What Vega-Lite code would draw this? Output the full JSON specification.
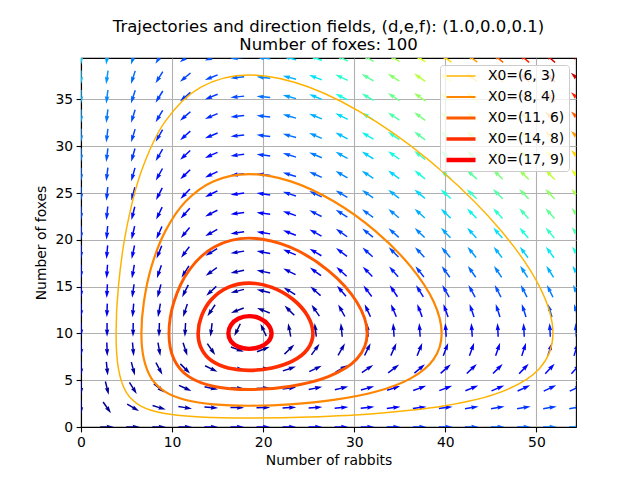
{
  "$schema": "https://vega.github.io/schema/vega-lite/v6.json",
  "width": 495,
  "height": 369,
  "autosize": {"type": "none"},
  "padding": {"left": 81, "top": 58, "right": 64, "bottom": 53},
  "title": {
    "text": ["Trajectories and direction fields, (d,e,f): (1.0,0.0,0.1)", "Number of foxes: 100"],
    "font": "DejaVu Sans",
    "fontSize": 16.5,
    "fontWeight": "normal",
    "color": "black",
    "anchor": "middle",
    "lineHeight": 17.5,
    "offset": 5
  },
  "datasets": {
    "field": [
      {"x":0,"y":2.075,"dir":180,"m":3.84},{"x":0,"y":4.151,"dir":180,"m":7.69},{"x":0,"y":6.226,"dir":180,"m":11.53},{"x":0,"y":8.301,"dir":180,"m":15.37},{"x":0,"y":10.377,"dir":180,"m":19.22},{"x":0,"y":12.452,"dir":180,"m":23.06},{"x":0,"y":14.527,"dir":180,"m":26.9},{"x":0,"y":16.602,"dir":180,"m":30.75},{"x":0,"y":18.678,"dir":180,"m":34.59},{"x":0,"y":20.753,"dir":180,"m":38.44},{"x":0,"y":22.828,"dir":180,"m":42.28},{"x":0,"y":24.904,"dir":180,"m":46.12},{"x":0,"y":26.979,"dir":180,"m":49.97},{"x":0,"y":29.054,"dir":180,"m":53.81},{"x":0,"y":31.13,"dir":180,"m":57.65},{"x":0,"y":33.205,"dir":180,"m":61.5},{"x":0,"y":35.28,"dir":180,"m":65.34},{"x":0,"y":37.355,"dir":180,"m":69.18},{"x":0,"y":39.431,"dir":180,"m":73.03},
      {"x":2.861,"y":0,"dir":90,"m":2.86},{"x":2.861,"y":2.075,"dir":145,"m":3.96},{"x":2.861,"y":4.151,"dir":166,"m":6.71},{"x":2.861,"y":6.226,"dir":174,"m":9.8},{"x":2.861,"y":8.301,"dir":178,"m":13.0},{"x":2.861,"y":10.377,"dir":180,"m":16.24},{"x":2.861,"y":12.452,"dir":182,"m":19.5},{"x":2.861,"y":14.527,"dir":183,"m":22.77},{"x":2.861,"y":16.602,"dir":184,"m":26.05},{"x":2.861,"y":18.678,"dir":185,"m":29.33},{"x":2.861,"y":20.753,"dir":185,"m":32.62},{"x":2.861,"y":22.828,"dir":186,"m":35.91},{"x":2.861,"y":24.904,"dir":186,"m":39.2},{"x":2.861,"y":26.979,"dir":187,"m":42.5},{"x":2.861,"y":29.054,"dir":187,"m":45.79},{"x":2.861,"y":31.13,"dir":187,"m":49.09},{"x":2.861,"y":33.205,"dir":187,"m":52.38},{"x":2.861,"y":35.28,"dir":187,"m":55.68},{"x":2.861,"y":37.355,"dir":188,"m":58.98},{"x":2.861,"y":39.431,"dir":188,"m":62.27},
      {"x":5.721,"y":0,"dir":90,"m":5.72},{"x":5.721,"y":2.075,"dir":120,"m":5.25},{"x":5.721,"y":4.151,"dir":148,"m":6.27},{"x":5.721,"y":6.226,"dir":165,"m":8.24},{"x":5.721,"y":8.301,"dir":175,"m":10.65},{"x":5.721,"y":10.377,"dir":181,"m":13.26},{"x":5.721,"y":12.452,"dir":185,"m":15.97},{"x":5.721,"y":14.527,"dir":188,"m":18.74},{"x":5.721,"y":16.602,"dir":190,"m":21.54},{"x":5.721,"y":18.678,"dir":192,"m":24.37},{"x":5.721,"y":20.753,"dir":193,"m":27.22},{"x":5.721,"y":22.828,"dir":194,"m":30.08},{"x":5.721,"y":24.904,"dir":195,"m":32.94},{"x":5.721,"y":26.979,"dir":196,"m":35.81},{"x":5.721,"y":29.054,"dir":196,"m":38.69},{"x":5.721,"y":31.13,"dir":197,"m":41.57},{"x":5.721,"y":33.205,"dir":197,"m":44.45},{"x":5.721,"y":35.28,"dir":198,"m":47.34},{"x":5.721,"y":37.355,"dir":198,"m":50.23},{"x":5.721,"y":39.431,"dir":198,"m":53.12},
      {"x":8.582,"y":0,"dir":90,"m":8.58},{"x":8.582,"y":2.075,"dir":107,"m":7.1},{"x":8.582,"y":4.151,"dir":129,"m":6.49},{"x":8.582,"y":6.226,"dir":152,"m":6.97},{"x":8.582,"y":8.301,"dir":170,"m":8.35},{"x":8.582,"y":10.377,"dir":182,"m":10.28},{"x":8.582,"y":12.452,"dir":190,"m":12.51},{"x":8.582,"y":14.527,"dir":195,"m":14.9},{"x":8.582,"y":16.602,"dir":199,"m":17.39},{"x":8.582,"y":18.678,"dir":202,"m":19.94},{"x":8.582,"y":20.753,"dir":204,"m":22.53},{"x":8.582,"y":22.828,"dir":206,"m":25.15},{"x":8.582,"y":24.904,"dir":207,"m":27.78},{"x":8.582,"y":26.979,"dir":209,"m":30.43},{"x":8.582,"y":29.054,"dir":210,"m":33.1},{"x":8.582,"y":31.13,"dir":210,"m":35.77},{"x":8.582,"y":33.205,"dir":211,"m":38.44},{"x":8.582,"y":35.28,"dir":212,"m":41.13},{"x":8.582,"y":37.355,"dir":212,"m":43.82},{"x":8.582,"y":39.431,"dir":213,"m":46.51},
      {"x":11.442,"y":0,"dir":90,"m":11.44},{"x":11.442,"y":2.075,"dir":99,"m":9.18},{"x":11.442,"y":4.151,"dir":114,"m":7.3},{"x":11.442,"y":6.226,"dir":135,"m":6.15},{"x":11.442,"y":8.301,"dir":162,"m":6.15},{"x":11.442,"y":10.377,"dir":183,"m":7.31},{"x":11.442,"y":12.452,"dir":198,"m":9.2},{"x":11.442,"y":14.527,"dir":207,"m":11.45},{"x":11.442,"y":16.602,"dir":213,"m":13.91},{"x":11.442,"y":18.678,"dir":217,"m":16.47},{"x":11.442,"y":20.753,"dir":220,"m":19.09},{"x":11.442,"y":22.828,"dir":222,"m":21.75},{"x":11.442,"y":24.904,"dir":224,"m":24.44},{"x":11.442,"y":26.979,"dir":226,"m":27.15},{"x":11.442,"y":29.054,"dir":227,"m":29.88},{"x":11.442,"y":31.13,"dir":228,"m":32.61},{"x":11.442,"y":33.205,"dir":229,"m":35.36},{"x":11.442,"y":35.28,"dir":229,"m":38.11},{"x":11.442,"y":37.355,"dir":230,"m":40.86},{"x":11.442,"y":39.431,"dir":231,"m":43.62},
      {"x":14.303,"y":0,"dir":90,"m":14.3},{"x":14.303,"y":2.075,"dir":94,"m":11.37},{"x":14.303,"y":4.151,"dir":102,"m":8.54},{"x":14.303,"y":6.226,"dir":116,"m":5.99},{"x":14.303,"y":8.301,"dir":145,"m":4.22},{"x":14.303,"y":10.377,"dir":187,"m":4.35},{"x":14.303,"y":12.452,"dir":214,"m":6.26},{"x":14.303,"y":14.527,"dir":227,"m":8.86},{"x":14.303,"y":16.602,"dir":234,"m":11.7},{"x":14.303,"y":18.678,"dir":238,"m":14.64},{"x":14.303,"y":20.753,"dir":241,"m":17.64},{"x":14.303,"y":22.828,"dir":243,"m":20.66},{"x":14.303,"y":24.904,"dir":244,"m":23.7},{"x":14.303,"y":26.979,"dir":245,"m":26.75},{"x":14.303,"y":29.054,"dir":246,"m":29.81},{"x":14.303,"y":31.13,"dir":247,"m":32.88},{"x":14.303,"y":33.205,"dir":247,"m":35.95},{"x":14.303,"y":35.28,"dir":248,"m":39.02},{"x":14.303,"y":37.355,"dir":248,"m":42.1},{"x":14.303,"y":39.431,"dir":249,"m":45.18},
      {"x":17.163,"y":0,"dir":90,"m":17.16},{"x":17.163,"y":2.075,"dir":91,"m":13.6},{"x":17.163,"y":4.151,"dir":93,"m":10.05},{"x":17.163,"y":6.226,"dir":97,"m":6.53},{"x":17.163,"y":8.301,"dir":110,"m":3.11},{"x":17.163,"y":10.377,"dir":206,"m":1.49},{"x":17.163,"y":12.452,"dir":249,"m":4.5},{"x":17.163,"y":14.527,"dir":256,"m":7.99},{"x":17.163,"y":16.602,"dir":259,"m":11.53},{"x":17.163,"y":18.678,"dir":261,"m":15.09},{"x":17.163,"y":20.753,"dir":262,"m":18.65},{"x":17.163,"y":22.828,"dir":262,"m":22.21},{"x":17.163,"y":24.904,"dir":263,"m":25.78},{"x":17.163,"y":26.979,"dir":263,"m":29.35},{"x":17.163,"y":29.054,"dir":263,"m":32.92},{"x":17.163,"y":31.13,"dir":264,"m":36.49},{"x":17.163,"y":33.205,"dir":264,"m":40.06},{"x":17.163,"y":35.28,"dir":264,"m":43.62},{"x":17.163,"y":37.355,"dir":264,"m":47.2},{"x":17.163,"y":39.431,"dir":264,"m":50.77},
      {"x":20.024,"y":0,"dir":90,"m":20.02},{"x":20.024,"y":2.075,"dir":89,"m":15.87},{"x":20.024,"y":4.151,"dir":87,"m":11.73},{"x":20.024,"y":6.226,"dir":83,"m":7.62},{"x":20.024,"y":8.301,"dir":69,"m":3.65},{"x":20.024,"y":10.377,"dir":335,"m":1.81},{"x":20.024,"y":12.452,"dir":292,"m":5.29},{"x":20.024,"y":14.527,"dir":284,"m":9.35},{"x":20.024,"y":16.602,"dir":281,"m":13.48},{"x":20.024,"y":18.678,"dir":280,"m":17.63},{"x":20.024,"y":20.753,"dir":279,"m":21.78},{"x":20.024,"y":22.828,"dir":278,"m":25.94},{"x":20.024,"y":24.904,"dir":278,"m":30.1},{"x":20.024,"y":26.979,"dir":277,"m":34.27},{"x":20.024,"y":29.054,"dir":277,"m":38.43},{"x":20.024,"y":31.13,"dir":277,"m":42.59},{"x":20.024,"y":33.205,"dir":276,"m":46.76},{"x":20.024,"y":35.28,"dir":276,"m":50.93},{"x":20.024,"y":37.355,"dir":276,"m":55.09},{"x":20.024,"y":39.431,"dir":276,"m":59.26},
      {"x":22.884,"y":0,"dir":90,"m":22.88},{"x":22.884,"y":2.075,"dir":87,"m":18.16},{"x":22.884,"y":4.151,"dir":82,"m":13.51},{"x":22.884,"y":6.226,"dir":72,"m":9.07},{"x":22.884,"y":8.301,"dir":46,"m":5.37},{"x":22.884,"y":10.377,"dir":349,"m":4.7},{"x":22.884,"y":12.452,"dir":315,"m":7.89},{"x":22.884,"y":14.527,"dir":302,"m":12.22},{"x":22.884,"y":16.602,"dir":296,"m":16.82},{"x":22.884,"y":18.678,"dir":293,"m":21.53},{"x":22.884,"y":20.753,"dir":291,"m":26.29},{"x":22.884,"y":22.828,"dir":289,"m":31.07},{"x":22.884,"y":24.904,"dir":288,"m":35.87},{"x":22.884,"y":26.979,"dir":287,"m":40.67},{"x":22.884,"y":29.054,"dir":287,"m":45.48},{"x":22.884,"y":31.13,"dir":286,"m":50.3},{"x":22.884,"y":33.205,"dir":286,"m":55.12},{"x":22.884,"y":35.28,"dir":285,"m":59.95},{"x":22.884,"y":37.355,"dir":285,"m":64.77},{"x":22.884,"y":39.431,"dir":285,"m":69.6},
      {"x":25.745,"y":0,"dir":90,"m":25.74},{"x":25.745,"y":2.075,"dir":86,"m":20.46},{"x":25.745,"y":4.151,"dir":79,"m":15.36},{"x":25.745,"y":6.226,"dir":65,"m":10.73},{"x":25.745,"y":8.301,"dir":36,"m":7.49},{"x":25.745,"y":10.377,"dir":353,"m":7.66},{"x":25.745,"y":12.452,"dir":325,"m":11.09},{"x":25.745,"y":14.527,"dir":312,"m":15.78},{"x":25.745,"y":16.602,"dir":306,"m":20.9},{"x":25.745,"y":18.678,"dir":301,"m":26.2},{"x":25.745,"y":20.753,"dir":299,"m":31.58},{"x":25.745,"y":22.828,"dir":297,"m":37.02},{"x":25.745,"y":24.904,"dir":295,"m":42.49},{"x":25.745,"y":26.979,"dir":294,"m":47.97},{"x":25.745,"y":29.054,"dir":293,"m":53.48},{"x":25.745,"y":31.13,"dir":293,"m":58.98},{"x":25.745,"y":33.205,"dir":292,"m":64.5},{"x":25.745,"y":35.28,"dir":292,"m":70.03},{"x":25.745,"y":37.355,"dir":291,"m":75.56},{"x":25.745,"y":39.431,"dir":291,"m":81.09},
      {"x":28.605,"y":0,"dir":90,"m":28.61},{"x":28.605,"y":2.075,"dir":85,"m":22.77},{"x":28.605,"y":4.151,"dir":76,"m":17.26},{"x":28.605,"y":6.226,"dir":60,"m":12.53},{"x":28.605,"y":8.301,"dir":30,"m":9.76},{"x":28.605,"y":10.377,"dir":354,"m":10.64},{"x":28.605,"y":12.452,"dir":331,"m":14.51},{"x":28.605,"y":14.527,"dir":319,"m":19.68},{"x":28.605,"y":16.602,"dir":312,"m":25.36},{"x":28.605,"y":18.678,"dir":307,"m":31.29},{"x":28.605,"y":20.753,"dir":305,"m":37.34},{"x":28.605,"y":22.828,"dir":302,"m":43.46},{"x":28.605,"y":24.904,"dir":301,"m":49.62},{"x":28.605,"y":26.979,"dir":300,"m":55.82},{"x":28.605,"y":29.054,"dir":299,"m":62.04},{"x":28.605,"y":31.13,"dir":298,"m":68.27},{"x":28.605,"y":33.205,"dir":297,"m":74.52},{"x":28.605,"y":35.28,"dir":296,"m":80.77},{"x":28.605,"y":37.355,"dir":296,"m":87.03},{"x":28.605,"y":39.431,"dir":296,"m":93.3},
      {"x":31.466,"y":0,"dir":90,"m":31.47},{"x":31.466,"y":2.075,"dir":84,"m":25.08},{"x":31.466,"y":4.151,"dir":74,"m":19.19},{"x":31.466,"y":6.226,"dir":56,"m":14.4},{"x":31.466,"y":8.301,"dir":26,"m":12.1},{"x":31.466,"y":10.377,"dir":355,"m":13.61},{"x":31.466,"y":12.452,"dir":335,"m":18.01},{"x":31.466,"y":14.527,"dir":323,"m":23.74},{"x":31.466,"y":16.602,"dir":316,"m":30.04},{"x":31.466,"y":18.678,"dir":312,"m":36.63},{"x":31.466,"y":20.753,"dir":309,"m":43.37},{"x":31.466,"y":22.828,"dir":306,"m":50.2},{"x":31.466,"y":24.904,"dir":305,"m":57.09},{"x":31.466,"y":26.979,"dir":303,"m":64.01},{"x":31.466,"y":29.054,"dir":302,"m":70.97},{"x":31.466,"y":31.13,"dir":301,"m":77.95},{"x":31.466,"y":33.205,"dir":301,"m":84.94},{"x":31.466,"y":35.28,"dir":300,"m":91.94},{"x":31.466,"y":37.355,"dir":300,"m":98.96},{"x":31.466,"y":39.431,"dir":299,"m":105.98},
      {"x":34.326,"y":0,"dir":90,"m":34.33},{"x":34.326,"y":2.075,"dir":83,"m":27.4},{"x":34.326,"y":4.151,"dir":72,"m":21.14},{"x":34.326,"y":6.226,"dir":53,"m":16.32},{"x":34.326,"y":8.301,"dir":24,"m":14.46},{"x":34.326,"y":10.377,"dir":356,"m":16.59},{"x":34.326,"y":12.452,"dir":337,"m":21.56},{"x":34.326,"y":14.527,"dir":326,"m":27.89},{"x":34.326,"y":16.602,"dir":319,"m":34.85},{"x":34.326,"y":18.678,"dir":315,"m":42.12},{"x":34.326,"y":20.753,"dir":312,"m":49.57},{"x":34.326,"y":22.828,"dir":310,"m":57.13},{"x":34.326,"y":24.904,"dir":308,"m":64.76},{"x":34.326,"y":26.979,"dir":306,"m":72.43},{"x":34.326,"y":29.054,"dir":305,"m":80.15},{"x":34.326,"y":31.13,"dir":304,"m":87.89},{"x":34.326,"y":33.205,"dir":304,"m":95.64},{"x":34.326,"y":35.28,"dir":303,"m":103.41},{"x":34.326,"y":37.355,"dir":302,"m":111.2},{"x":34.326,"y":39.431,"dir":302,"m":118.98},
      {"x":37.187,"y":0,"dir":90,"m":37.19},{"x":37.187,"y":2.075,"dir":82,"m":29.73},{"x":37.187,"y":4.151,"dir":70,"m":23.11},{"x":37.187,"y":6.226,"dir":50,"m":18.28},{"x":37.187,"y":8.301,"dir":22,"m":16.85},{"x":37.187,"y":10.377,"dir":356,"m":19.57},{"x":37.187,"y":12.452,"dir":339,"m":25.14},{"x":37.187,"y":14.527,"dir":328,"m":32.1},{"x":37.187,"y":16.602,"dir":322,"m":39.73},{"x":37.187,"y":18.678,"dir":317,"m":47.71},{"x":37.187,"y":20.753,"dir":314,"m":55.89},{"x":37.187,"y":22.828,"dir":312,"m":64.19},{"x":37.187,"y":24.904,"dir":310,"m":72.58},{"x":37.187,"y":26.979,"dir":309,"m":81.01},{"x":37.187,"y":29.054,"dir":308,"m":89.49},{"x":37.187,"y":31.13,"dir":307,"m":98.0},{"x":37.187,"y":33.205,"dir":306,"m":106.53},{"x":37.187,"y":35.28,"dir":305,"m":115.08},{"x":37.187,"y":37.355,"dir":305,"m":123.64},{"x":37.187,"y":39.431,"dir":304,"m":132.22},
      {"x":40.047,"y":0,"dir":90,"m":40.05},{"x":40.047,"y":2.075,"dir":82,"m":32.05},{"x":40.047,"y":4.151,"dir":69,"m":25.09},{"x":40.047,"y":6.226,"dir":48,"m":20.27},{"x":40.047,"y":8.301,"dir":21,"m":19.25},{"x":40.047,"y":10.377,"dir":356,"m":22.55},{"x":40.047,"y":12.452,"dir":340,"m":28.73},{"x":40.047,"y":14.527,"dir":330,"m":36.35},{"x":40.047,"y":16.602,"dir":324,"m":44.67},{"x":40.047,"y":18.678,"dir":319,"m":53.37},{"x":40.047,"y":20.753,"dir":316,"m":62.29},{"x":40.047,"y":22.828,"dir":314,"m":71.35},{"x":40.047,"y":24.904,"dir":312,"m":80.49},{"x":40.047,"y":26.979,"dir":311,"m":89.7},{"x":40.047,"y":29.054,"dir":310,"m":98.96},{"x":40.047,"y":31.13,"dir":309,"m":108.25},{"x":40.047,"y":33.205,"dir":308,"m":117.56},{"x":40.047,"y":35.28,"dir":307,"m":126.9},{"x":40.047,"y":37.355,"dir":306,"m":136.25},{"x":40.047,"y":39.431,"dir":306,"m":145.61},
      {"x":42.908,"y":0,"dir":90,"m":42.91},{"x":42.908,"y":2.075,"dir":81,"m":34.38},{"x":42.908,"y":4.151,"dir":68,"m":27.09},{"x":42.908,"y":6.226,"dir":47,"m":22.27},{"x":42.908,"y":8.301,"dir":20,"m":21.65},{"x":42.908,"y":10.377,"dir":356,"m":25.53},{"x":42.908,"y":12.452,"dir":341,"m":32.34},{"x":42.908,"y":14.527,"dir":331,"m":40.62},{"x":42.908,"y":16.602,"dir":325,"m":49.65},{"x":42.908,"y":18.678,"dir":321,"m":59.08},{"x":42.908,"y":20.753,"dir":318,"m":68.75},{"x":42.908,"y":22.828,"dir":316,"m":78.57},{"x":42.908,"y":24.904,"dir":314,"m":88.49},{"x":42.908,"y":26.979,"dir":312,"m":98.48},{"x":42.908,"y":29.054,"dir":311,"m":108.51},{"x":42.908,"y":31.13,"dir":310,"m":118.59},{"x":42.908,"y":33.205,"dir":309,"m":128.7},{"x":42.908,"y":35.28,"dir":309,"m":138.82},{"x":42.908,"y":37.355,"dir":308,"m":148.97},{"x":42.908,"y":39.431,"dir":307,"m":159.13},
      {"x":45.768,"y":0,"dir":90,"m":45.77},{"x":45.768,"y":2.075,"dir":81,"m":36.71},{"x":45.768,"y":4.151,"dir":67,"m":29.09},{"x":45.768,"y":6.226,"dir":45,"m":24.29},{"x":45.768,"y":8.301,"dir":19,"m":24.06},{"x":45.768,"y":10.377,"dir":357,"m":28.52},{"x":45.768,"y":12.452,"dir":342,"m":35.95},{"x":45.768,"y":14.527,"dir":333,"m":44.91},{"x":45.768,"y":16.602,"dir":326,"m":54.66},{"x":45.768,"y":18.678,"dir":322,"m":64.83},{"x":45.768,"y":20.753,"dir":319,"m":75.25},{"x":45.768,"y":22.828,"dir":317,"m":85.84},{"x":45.768,"y":24.904,"dir":315,"m":96.53},{"x":45.768,"y":26.979,"dir":314,"m":107.31},{"x":45.768,"y":29.054,"dir":312,"m":118.14},{"x":45.768,"y":31.13,"dir":311,"m":129.01},{"x":45.768,"y":33.205,"dir":311,"m":139.91},{"x":45.768,"y":35.28,"dir":310,"m":150.83},{"x":45.768,"y":37.355,"dir":309,"m":161.79},{"x":45.768,"y":39.431,"dir":309,"m":172.75},
      {"x":48.629,"y":0,"dir":90,"m":48.63},{"x":48.629,"y":2.075,"dir":81,"m":39.05},{"x":48.629,"y":4.151,"dir":66,"m":31.1},{"x":48.629,"y":6.226,"dir":44,"m":26.32},{"x":48.629,"y":8.301,"dir":18,"m":26.48},{"x":48.629,"y":10.377,"dir":357,"m":31.5},{"x":48.629,"y":12.452,"dir":342,"m":39.57},{"x":48.629,"y":14.527,"dir":333,"m":49.22},{"x":48.629,"y":16.602,"dir":327,"m":59.68},{"x":48.629,"y":18.678,"dir":323,"m":70.6},{"x":48.629,"y":20.753,"dir":320,"m":81.79},{"x":48.629,"y":22.828,"dir":318,"m":93.15},{"x":48.629,"y":24.904,"dir":316,"m":104.63},{"x":48.629,"y":26.979,"dir":315,"m":116.19},{"x":48.629,"y":29.054,"dir":314,"m":127.81},{"x":48.629,"y":31.13,"dir":313,"m":139.48},{"x":48.629,"y":33.205,"dir":312,"m":151.19},{"x":48.629,"y":35.28,"dir":311,"m":162.92},{"x":48.629,"y":37.355,"dir":310,"m":174.67},{"x":48.629,"y":39.431,"dir":310,"m":186.43},
      {"x":51.489,"y":0,"dir":90,"m":51.49},{"x":51.489,"y":2.075,"dir":80,"m":41.38},{"x":51.489,"y":4.151,"dir":65,"m":33.12},{"x":51.489,"y":6.226,"dir":43,"m":28.36},{"x":51.489,"y":8.301,"dir":18,"m":28.89},{"x":51.489,"y":10.377,"dir":357,"m":34.48},{"x":51.489,"y":12.452,"dir":343,"m":43.19},{"x":51.489,"y":14.527,"dir":334,"m":53.53},{"x":51.489,"y":16.602,"dir":328,"m":64.72},{"x":51.489,"y":18.678,"dir":324,"m":76.39},{"x":51.489,"y":20.753,"dir":321,"m":88.35},{"x":51.489,"y":22.828,"dir":319,"m":100.49},{"x":51.489,"y":24.904,"dir":317,"m":112.76},{"x":51.489,"y":26.979,"dir":316,"m":125.11},{"x":51.489,"y":29.054,"dir":314,"m":137.54},{"x":51.489,"y":31.13,"dir":314,"m":150.0},{"x":51.489,"y":33.205,"dir":313,"m":162.51},{"x":51.489,"y":35.28,"dir":312,"m":175.04},{"x":51.489,"y":37.355,"dir":311,"m":187.6},{"x":51.489,"y":39.431,"dir":311,"m":200.19},
      {"x":54.35,"y":0,"dir":90,"m":54.35},{"x":54.35,"y":2.075,"dir":80,"m":43.71},{"x":54.35,"y":4.151,"dir":65,"m":35.14},{"x":54.35,"y":6.226,"dir":42,"m":30.4},{"x":54.35,"y":8.301,"dir":17,"m":31.31},{"x":54.35,"y":10.377,"dir":357,"m":37.46},{"x":54.35,"y":12.452,"dir":343,"m":46.82},{"x":54.35,"y":14.527,"dir":335,"m":57.86},{"x":54.35,"y":16.602,"dir":329,"m":69.78},{"x":54.35,"y":18.678,"dir":325,"m":82.2},{"x":54.35,"y":20.753,"dir":322,"m":94.93},{"x":54.35,"y":22.828,"dir":320,"m":107.85},{"x":54.35,"y":24.904,"dir":318,"m":120.91},{"x":54.35,"y":26.979,"dir":317,"m":134.06},{"x":54.35,"y":29.054,"dir":315,"m":147.28},{"x":54.35,"y":31.13,"dir":314,"m":160.55},{"x":54.35,"y":33.205,"dir":314,"m":173.87},{"x":54.35,"y":35.28,"dir":313,"m":187.22},{"x":54.35,"y":37.355,"dir":312,"m":200.58},{"x":54.35,"y":39.431,"dir":312,"m":213.97}
    ],
    "orbits": [
      {"X0":"X0=(6, 3)","t":0,"x":51.82,"y":10},{"X0":"X0=(6, 3)","t":1,"x":50.32,"y":15.05},{"X0":"X0=(6, 3)","t":2,"x":46.08,"y":21.02},{"X0":"X0=(6, 3)","t":3,"x":39.79,"y":27.19},{"X0":"X0=(6, 3)","t":4,"x":32.44,"y":32.6},{"X0":"X0=(6, 3)","t":5,"x":25.06,"y":36.3},{"X0":"X0=(6, 3)","t":6,"x":18.45,"y":37.62},{"X0":"X0=(6, 3)","t":7,"x":13.12,"y":36.3},{"X0":"X0=(6, 3)","t":8,"x":9.21,"y":32.6},{"X0":"X0=(6, 3)","t":9,"x":6.58,"y":27.19},{"X0":"X0=(6, 3)","t":10,"x":4.96,"y":21.02},{"X0":"X0=(6, 3)","t":11,"x":4.11,"y":15.05},{"X0":"X0=(6, 3)","t":12,"x":3.85,"y":10},{"X0":"X0=(6, 3)","t":13,"x":4.11,"y":6.23},{"X0":"X0=(6, 3)","t":14,"x":4.96,"y":3.73},{"X0":"X0=(6, 3)","t":15,"x":6.58,"y":2.24},{"X0":"X0=(6, 3)","t":16,"x":9.21,"y":1.45},{"X0":"X0=(6, 3)","t":17,"x":13.12,"y":1.07},{"X0":"X0=(6, 3)","t":18,"x":18.45,"y":0.96},{"X0":"X0=(6, 3)","t":19,"x":25.06,"y":1.07},{"X0":"X0=(6, 3)","t":20,"x":32.44,"y":1.45},{"X0":"X0=(6, 3)","t":21,"x":39.79,"y":2.24},{"X0":"X0=(6, 3)","t":22,"x":46.08,"y":3.73},{"X0":"X0=(6, 3)","t":23,"x":50.32,"y":6.23},
      {"X0":"X0=(8, 4)","t":0,"x":39.6,"y":10},{"X0":"X0=(8, 4)","t":1,"x":38.71,"y":13.41},{"X0":"X0=(8, 4)","t":2,"x":36.16,"y":17.19},{"X0":"X0=(8, 4)","t":3,"x":32.33,"y":20.93},{"X0":"X0=(8, 4)","t":4,"x":27.74,"y":24.12},{"X0":"X0=(8, 4)","t":5,"x":22.95,"y":26.27},{"X0":"X0=(8, 4)","t":6,"x":18.45,"y":27.03},{"X0":"X0=(8, 4)","t":7,"x":14.58,"y":26.27},{"X0":"X0=(8, 4)","t":8,"x":11.51,"y":24.12},{"X0":"X0=(8, 4)","t":9,"x":9.26,"y":20.93},{"X0":"X0=(8, 4)","t":10,"x":7.75,"y":17.19},{"X0":"X0=(8, 4)","t":11,"x":6.91,"y":13.41},{"X0":"X0=(8, 4)","t":12,"x":6.63,"y":10},{"X0":"X0=(8, 4)","t":13,"x":6.91,"y":7.23},{"X0":"X0=(8, 4)","t":14,"x":7.75,"y":5.17},{"X0":"X0=(8, 4)","t":15,"x":9.26,"y":3.76},{"X0":"X0=(8, 4)","t":16,"x":11.51,"y":2.89},{"X0":"X0=(8, 4)","t":17,"x":14.58,"y":2.42},{"X0":"X0=(8, 4)","t":18,"x":18.45,"y":2.27},{"X0":"X0=(8, 4)","t":19,"x":22.95,"y":2.42},{"X0":"X0=(8, 4)","t":20,"x":27.74,"y":2.89},{"X0":"X0=(8, 4)","t":21,"x":32.33,"y":3.76},{"X0":"X0=(8, 4)","t":22,"x":36.16,"y":5.17},{"X0":"X0=(8, 4)","t":23,"x":38.71,"y":7.23},
      {"X0":"X0=(11, 6)","t":0,"x":31.42,"y":10},{"X0":"X0=(11, 6)","t":1,"x":30.28,"y":13.36},{"X0":"X0=(11, 6)","t":2,"x":27.16,"y":16.72},{"X0":"X0=(11, 6)","t":3,"x":22.89,"y":19.24},{"X0":"X0=(11, 6)","t":4,"x":18.45,"y":20.18},{"X0":"X0=(11, 6)","t":5,"x":14.63,"y":19.24},{"X0":"X0=(11, 6)","t":6,"x":11.84,"y":16.72},{"X0":"X0=(11, 6)","t":7,"x":10.2,"y":13.36},{"X0":"X0=(11, 6)","t":8,"x":9.66,"y":10},{"X0":"X0=(11, 6)","t":9,"x":10.2,"y":7.26},{"X0":"X0=(11, 6)","t":10,"x":11.84,"y":5.38},{"X0":"X0=(11, 6)","t":11,"x":14.63,"y":4.33},{"X0":"X0=(11, 6)","t":12,"x":18.45,"y":4.0},{"X0":"X0=(11, 6)","t":13,"x":22.89,"y":4.33},{"X0":"X0=(11, 6)","t":14,"x":27.16,"y":5.38},{"X0":"X0=(11, 6)","t":15,"x":30.28,"y":7.26},
      {"X0":"X0=(14, 8)","t":0,"x":25.47,"y":10},{"X0":"X0=(14, 8)","t":1,"x":24.88,"y":11.88},{"X0":"X0=(14, 8)","t":2,"x":23.26,"y":13.65},{"X0":"X0=(14, 8)","t":3,"x":20.96,"y":14.92},{"X0":"X0=(14, 8)","t":4,"x":18.45,"y":15.38},{"X0":"X0=(14, 8)","t":5,"x":16.15,"y":14.92},{"X0":"X0=(14, 8)","t":6,"x":14.35,"y":13.65},{"X0":"X0=(14, 8)","t":7,"x":13.24,"y":11.88},{"X0":"X0=(14, 8)","t":8,"x":12.86,"y":10},{"X0":"X0=(14, 8)","t":9,"x":13.24,"y":8.33},{"X0":"X0=(14, 8)","t":10,"x":14.35,"y":7.07},{"X0":"X0=(14, 8)","t":11,"x":16.15,"y":6.31},{"X0":"X0=(14, 8)","t":12,"x":18.45,"y":6.05},{"X0":"X0=(14, 8)","t":13,"x":20.96,"y":6.31},{"X0":"X0=(14, 8)","t":14,"x":23.26,"y":7.07},{"X0":"X0=(14, 8)","t":15,"x":24.88,"y":8.33},
      {"X0":"X0=(17, 9)","t":0,"x":20.92,"y":10},{"X0":"X0=(17, 9)","t":1,"x":20.58,"y":10.9},{"X0":"X0=(17, 9)","t":2,"x":19.66,"y":11.59},{"X0":"X0=(17, 9)","t":3,"x":18.45,"y":11.85},{"X0":"X0=(17, 9)","t":4,"x":17.29,"y":11.59},{"X0":"X0=(17, 9)","t":5,"x":16.47,"y":10.9},{"X0":"X0=(17, 9)","t":6,"x":16.18,"y":10},{"X0":"X0=(17, 9)","t":7,"x":16.47,"y":9.15},{"X0":"X0=(17, 9)","t":8,"x":17.29,"y":8.56},{"X0":"X0=(17, 9)","t":9,"x":18.45,"y":8.35},{"X0":"X0=(17, 9)","t":10,"x":19.66,"y":8.56},{"X0":"X0=(17, 9)","t":11,"x":20.58,"y":9.15}
    ]
  },
  "layer": [
    {
      "data": {"name": "field"},
      "mark": {
        "type": "point",
        "shape": "M -0.108 1 L 0.108 1 L 0.108 -0.025 L 0.324 0.076 L 0 -1 L -0.324 0.076 L -0.108 -0.025 Z",
        "filled": true,
        "size": 189,
        "opacity": 1,
        "strokeWidth": 0,
        "clip": true
      },
      "encoding": {
        "x": {
          "field": "x", "type": "quantitative", "title": "Number of rabbits",
          "scale": {"domain": [0, 54.35], "nice": false, "zero": false},
          "axis": {"values": [0, 10, 20, 30, 40, 50]}
        },
        "y": {
          "field": "y", "type": "quantitative", "title": "Number of foxes",
          "scale": {"domain": [0, 39.431], "nice": false, "zero": false},
          "axis": {"values": [0, 5, 10, 15, 20, 25, 30, 35]}
        },
        "angle": {"field": "dir", "type": "quantitative", "scale": null},
        "fill": {
          "field": "m", "type": "quantitative", "legend": null,
          "scale": {
            "domain": [1, 24.43, 27.63, 73.42, 80.88, 137.32, 141.58, 190.57, 194.83, 214],
            "range": ["#000080", "#0000ff", "#0000ff", "#00dbff", "#15ffe2", "#efff08", "#ffec00", "#ff1300", "#e80000", "#800000"],
            "interpolate": "rgb"
          }
        }
      }
    },
    {
      "data": {"name": "orbits"},
      "mark": {"type": "line", "interpolate": "cardinal-closed", "clip": true},
      "encoding": {
        "x": {"field": "x", "type": "quantitative"},
        "y": {"field": "y", "type": "quantitative"},
        "order": {"field": "t", "type": "quantitative"},
        "stroke": {
          "field": "X0", "type": "ordinal", "title": null,
          "scale": {
            "domain": ["X0=(6, 3)", "X0=(8, 4)", "X0=(11, 6)", "X0=(14, 8)", "X0=(17, 9)"],
            "range": ["#ffb300", "#ff8600", "#ff5900", "#ff2d00", "#ff0000"]
          }
        },
        "strokeWidth": {
          "field": "X0", "type": "ordinal", "title": null,
          "scale": {
            "type": "ordinal",
            "domain": ["X0=(6, 3)", "X0=(8, 4)", "X0=(11, 6)", "X0=(14, 8)", "X0=(17, 9)"],
            "range": [1.46, 2.19, 2.92, 3.65, 4.38]
          }
        }
      }
    }
  ],
  "config": {
    "font": "DejaVu Sans",
    "view": {"stroke": "black", "strokeWidth": 1.1},
    "axis": {
      "labelFont": "DejaVu Sans", "labelFontSize": 13.9, "labelColor": "black", "labelFlush": false,
      "titleFont": "DejaVu Sans", "titleFontSize": 13.9, "titleFontWeight": "normal", "titleColor": "black",
      "tickColor": "black", "tickSize": 4.9, "tickWidth": 1.1,
      "domainColor": "black", "domainWidth": 1.1,
      "gridColor": "#b0b0b0", "gridWidth": 1.1,
      "labelPadding": 3.5
    },
    "axisX": {"titlePadding": 4.5},
    "axisY": {"titlePadding": 6},
    "legend": {
      "orient": "top-right",
      "offset": 7,
      "fillColor": "rgba(255,255,255,0.8)",
      "strokeColor": "#cccccc",
      "cornerRadius": 3,
      "padding": 4,
      "labelFont": "DejaVu Sans",
      "labelFontSize": 13.9,
      "labelColor": "black",
      "labelOffset": 10,
      "symbolType": "stroke",
      "symbolSize": 841,
      "clipHeight": 14,
      "rowPadding": 7
    }
  }
}
